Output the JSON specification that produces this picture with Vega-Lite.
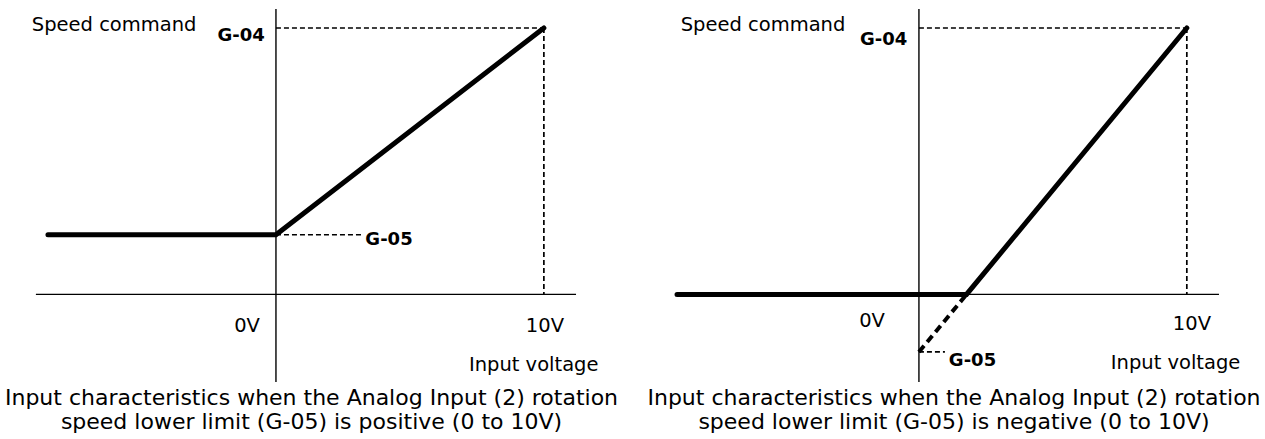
{
  "$schema": "https://vega.github.io/schema/vega-lite/v6.json",
  "padding": 0,
  "spacing": 0,
  "background": "white",
  "config": {"view": {"stroke": null}, "font": "DejaVu Sans"},
  "hconcat": [
    {
      "width": 643,
      "height": 385,
      "title": {
        "text": ["Input characteristics when the Analog Input (2) rotation", "speed lower limit (G-05) is positive (0 to 10V)"],
        "orient": "bottom", "anchor": "middle", "fontSize": 22, "fontWeight": "normal",
        "font": "DejaVu Sans", "color": "black", "lineHeight": 24, "offset": 3, "dx": -10
      },
      "encoding": {
        "x": {"field": "x", "type": "quantitative", "scale": {"domain": [-10.3, 13.7], "nice": false, "zero": false}, "axis": null},
        "y": {"field": "y", "type": "quantitative", "scale": {"domain": [-34, 110.5], "nice": false, "zero": false}, "axis": null}
      },
      "layer": [
        {
          "data": {"values": [
            {"x": -8.96, "y": 0, "x2": 11.2, "y2": 0},
            {"x": 0, "y": -32.9, "x2": 0, "y2": 107.1}
          ]},
          "mark": {"type": "rule", "strokeWidth": 1.4, "color": "black"},
          "encoding": {"x2": {"field": "x2"}, "y2": {"field": "y2"}}
        },
        {
          "data": {"values": [
            {"x": 0, "y": 100, "x2": 10, "y2": 100},
            {"x": 10, "y": 100, "x2": 10, "y2": 0},
            {"x": 0, "y": 22.4, "x2": 3.21, "y2": 22.4}
          ]},
          "mark": {"type": "rule", "strokeWidth": 1.7, "color": "black", "strokeDash": [5, 3]},
          "encoding": {"x2": {"field": "x2"}, "y2": {"field": "y2"}}
        },
        {
          "data": {"values": [
            {"x": -8.51, "y": 22.4},
            {"x": 0, "y": 22.4},
            {"x": 10, "y": 100}
          ]},
          "mark": {"type": "line", "strokeWidth": 5, "color": "black", "strokeCap": "round", "strokeJoin": "miter"}
        },
        {
          "data": {"values": [
            {"x": -6.04, "y": 98.9, "label": "Speed command"},
            {"x": -1.08, "y": -14.1, "label": "0V"},
            {"x": 10.04, "y": -14.1, "label": "10V"},
            {"x": 9.62, "y": -28.7, "label": "Input voltage"}
          ]},
          "mark": {"type": "text", "fontSize": 19.5, "align": "center", "baseline": "alphabetic", "color": "black"},
          "encoding": {"text": {"field": "label"}}
        },
        {
          "data": {"values": [
            {"x": -1.3, "y": 95.2, "label": "G-04"},
            {"x": 4.22, "y": 18.55, "label": "G-05"}
          ]},
          "mark": {"type": "text", "fontSize": 18, "fontWeight": "bold", "align": "center", "baseline": "alphabetic", "color": "black"},
          "encoding": {"text": {"field": "label"}}
        }
      ]
    },
    {
      "width": 622,
      "height": 385,
      "title": {
        "text": ["Input characteristics when the Analog Input (2) rotation", "speed lower limit (G-05) is negative (0 to 10V)"],
        "orient": "bottom", "anchor": "middle", "fontSize": 22, "fontWeight": "normal",
        "font": "DejaVu Sans", "color": "black", "lineHeight": 24, "offset": 3
      },
      "encoding": {
        "x": {"field": "x", "type": "quantitative", "scale": {"domain": [-10.3, 12.918], "nice": false, "zero": false}, "axis": null},
        "y": {"field": "y", "type": "quantitative", "scale": {"domain": [-34, 110.5], "nice": false, "zero": false}, "axis": null}
      },
      "layer": [
        {
          "data": {"values": [
            {"x": -9.03, "y": 0, "x2": 11.2, "y2": 0},
            {"x": 0, "y": -32.9, "x2": 0, "y2": 107.1}
          ]},
          "mark": {"type": "rule", "strokeWidth": 1.4, "color": "black"},
          "encoding": {"x2": {"field": "x2"}, "y2": {"field": "y2"}}
        },
        {
          "data": {"values": [
            {"x": 0, "y": 100, "x2": 10, "y2": 100},
            {"x": 10, "y": 100, "x2": 10, "y2": 0},
            {"x": 0, "y": -21.6, "x2": 0.97, "y2": -21.6}
          ]},
          "mark": {"type": "rule", "strokeWidth": 1.7, "color": "black", "strokeDash": [5, 3]},
          "encoding": {"x2": {"field": "x2"}, "y2": {"field": "y2"}}
        },
        {
          "data": {"values": [
            {"x": 0, "y": -21.6},
            {"x": 1.776, "y": 0}
          ]},
          "mark": {"type": "line", "strokeWidth": 4, "color": "black", "strokeDash": [8, 5]}
        },
        {
          "data": {"values": [
            {"x": -9.03, "y": 0},
            {"x": 1.776, "y": 0},
            {"x": 10, "y": 100}
          ]},
          "mark": {"type": "line", "strokeWidth": 5, "color": "black", "strokeCap": "round", "strokeJoin": "miter"}
        },
        {
          "data": {"values": [
            {"x": -5.82, "y": 98.9, "label": "Speed command"},
            {"x": -1.75, "y": -12.1, "label": "0V"},
            {"x": 10.19, "y": -13.4, "label": "10V"},
            {"x": 9.58, "y": -28.0, "label": "Input voltage"}
          ]},
          "mark": {"type": "text", "fontSize": 19.5, "align": "center", "baseline": "alphabetic", "color": "black"},
          "encoding": {"text": {"field": "label"}}
        },
        {
          "data": {"values": [
            {"x": -1.32, "y": 93.6, "label": "G-04"},
            {"x": 2.0, "y": -26.75, "label": "G-05"}
          ]},
          "mark": {"type": "text", "fontSize": 18, "fontWeight": "bold", "align": "center", "baseline": "alphabetic", "color": "black"},
          "encoding": {"text": {"field": "label"}}
        }
      ]
    }
  ]
}
